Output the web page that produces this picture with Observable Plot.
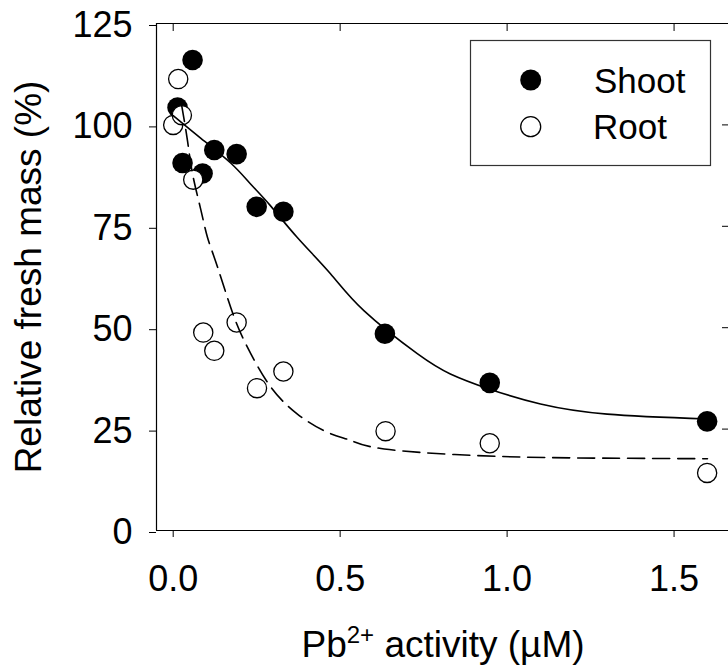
<!DOCTYPE html>
<html>
<head>
<meta charset="utf-8">
<script src="https://cdn.jsdelivr.net/npm/d3@7"></script>
<script src="https://cdn.jsdelivr.net/npm/@observablehq/plot@0.6"></script>
<style>
  html, body { margin: 0; padding: 0; background: #fff; }
  #chart { width: 728px; height: 670px; }
</style>
</head>
<body>
<div id="chart"></div>
<script>
// ---- data ----
const shootX = [0.013, 0.028, 0.058, 0.088, 0.123, 0.19, 0.25, 0.33, 0.634, 0.948, 1.599];
const shootY = [104.3, 90.6, 116.0, 88.0, 93.8, 92.8, 79.8, 78.6, 48.5, 36.4, 26.9];
const rootX = [0.0, 0.015, 0.026, 0.06, 0.09, 0.123, 0.19, 0.251, 0.33, 0.636, 0.948, 1.599];
const rootY = [100.0, 111.3, 102.4, 86.5, 48.8, 44.3, 51.3, 35.1, 39.2, 24.5, 21.5, 14.2];

// fitted curves
const shootFitX = [0.0, 0.083, 0.172, 0.231, 0.291, 0.371, 0.471, 0.571, 0.731, 0.83, 0.946, 1.1, 1.3, 1.6];
const shootFitY = [102.3, 96.7, 90.6, 85.5, 80.1, 72.3, 63.3, 54.2, 43.6, 38.6, 34.9, 31.2, 28.7, 27.5];
const rootFitX = [0.025, 0.043, 0.058, 0.083, 0.103, 0.133, 0.183, 0.233, 0.293, 0.372, 0.462, 0.532, 0.632, 0.901, 1.2, 1.6];
const rootFitY = [105.0, 96.0, 87.9, 79.0, 72.2, 64.9, 52.5, 43.5, 35.3, 28.7, 24.2, 22.2, 20.1, 18.5, 17.9, 17.7];

const xTicks = [0, 0.5, 1.0, 1.5];
const yTicks = [0, 25, 50, 75, 100, 125];
const yInnerTicks = [25, 50, 75, 100];
const xDomain = [-0.05, 1.663];
const yDomain = [0, 125];

const seriesNames = ["Shoot", "Root"];
const yTitle = "Relative fresh mass (%)";
const xTitleMain = "Pb";
const xTitleSup = "2+";
const xTitleRest = " activity (µM)";

// ---- tables ----
const shoot = shootX.map((x, i) => ({x, y: shootY[i]}));
const root = rootX.map((x, i) => ({x, y: rootY[i]}));
const shootFit = shootFitX.map((x, i) => ({x, y: shootFitY[i]}));
const rootFit = rootFitX.map((x, i) => ({x, y: rootFitY[i]}));

const FONT = "'Liberation Sans', Arial, Helvetica, sans-serif";

const chart = Plot.plot({
  width: 728,
  height: 670,
  marginLeft: 156,
  marginRight: 0,
  marginTop: 23,
  marginBottom: 140,
  style: {fontFamily: FONT, fontSize: "36px", color: "#000", background: "#fff"},
  x: {domain: xDomain, axis: null},
  y: {domain: yDomain, axis: null},
  marks: [
    // frame lines
    Plot.ruleX([xDomain[0]], {stroke: "#000", strokeWidth: 1.2}),
    Plot.ruleY([yDomain[0], yDomain[1]], {stroke: "#000", strokeWidth: 1.2}),
    // outer axes
    Plot.axisY({ticks: yTicks, tickSize: 7, tickPadding: 17, fontSize: 36, dy: 2, label: null, tickFormat: d => String(d)}),
    Plot.axisX({ticks: xTicks, tickSize: 7, tickPadding: 28, fontSize: 36, label: null, tickFormat: d3.format(".1f")}),
    // inward ticks on top and right
    Plot.axisX({anchor: "top", ticks: xTicks, tickSize: -7, label: null, tickFormat: () => ""}),
    Plot.axisY({anchor: "right", ticks: yInnerTicks, tickSize: -7, label: null, tickFormat: () => ""}),
    // data points
    Plot.dot(shoot, {x: "x", y: "y", r: 10.3, fill: "#000", stroke: "none"}),
    Plot.dot(root, {x: "x", y: "y", r: 9.6, fill: "#fff", stroke: "#000", strokeWidth: 1.3}),
    // fitted curves
    Plot.line(shootFit, {x: "x", y: "y", curve: "natural", stroke: "#000", strokeWidth: 1.6}),
    Plot.line(rootFit, {x: "x", y: "y", curve: "natural", stroke: "#000", strokeWidth: 1.6, strokeDasharray: "17,8"}),
    // y title
    Plot.text([yTitle], {frameAnchor: "left", dx: -127, rotate: -90, textAnchor: "middle", fontSize: 37, fill: "#000", text: d => d})
  ]
});

document.getElementById("chart").appendChild(chart);

// ---- x title with superscript and legend ----
const svg = d3.select(chart);
const t = svg.append("text")
  .attr("x", 443).attr("y", 657)
  .attr("text-anchor", "middle")
  .attr("font-family", FONT)
  .attr("font-size", 37)
  .attr("fill", "#000");
t.append("tspan").text(xTitleMain);
t.append("tspan").attr("font-size", 24).attr("dy", -14).text(xTitleSup);
t.append("tspan").attr("dy", 14).text(xTitleRest);

const lg = svg.append("g").attr("text-anchor", "start");
lg.append("rect").attr("x", 470.5).attr("y", 40.5).attr("width", 240).attr("height", 125)
  .attr("fill", "#fff").attr("stroke", "#333").attr("stroke-width", 1.2);
lg.append("circle").attr("cx", 530.7).attr("cy", 80).attr("r", 10.5).attr("fill", "#000");
lg.append("circle").attr("cx", 530.7).attr("cy", 126.7).attr("r", 10).attr("fill", "#fff")
  .attr("stroke", "#000").attr("stroke-width", 1.3);
lg.append("text").attr("x", 594).attr("y", 92.5).attr("text-anchor", "start").attr("font-family", FONT).attr("font-size", 35)
  .attr("fill", "#000").text(seriesNames[0]);
lg.append("text").attr("x", 593).attr("y", 138.5).attr("text-anchor", "start").attr("font-family", FONT).attr("font-size", 35)
  .attr("fill", "#000").text(seriesNames[1]);
</script>
</body>
</html>
